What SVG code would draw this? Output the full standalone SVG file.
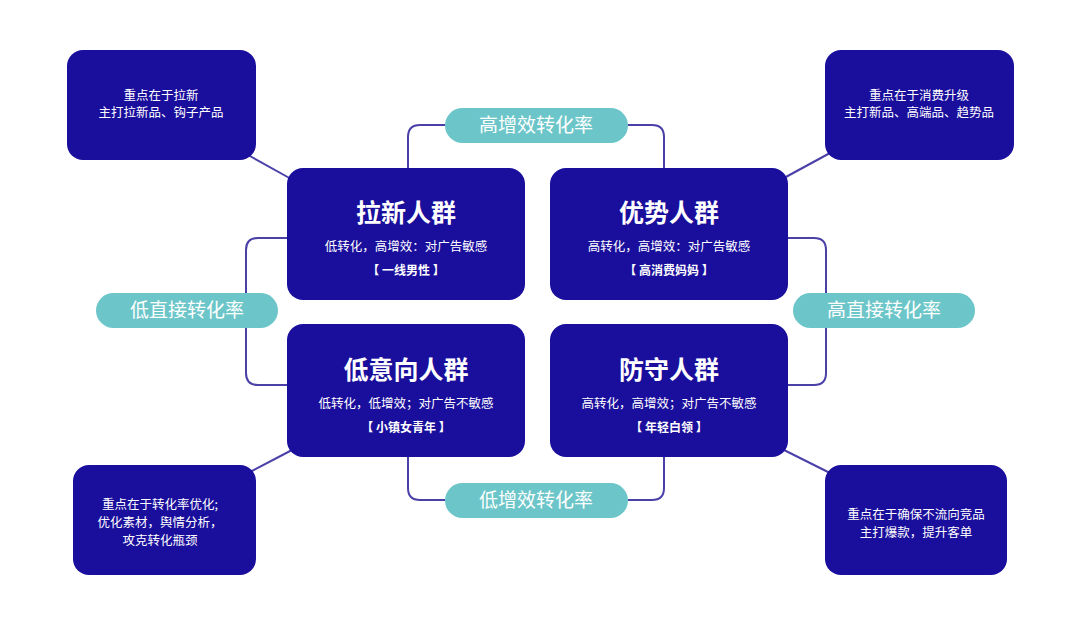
<svg xmlns="http://www.w3.org/2000/svg" width="1080" height="625" viewBox="0 0 1080 625">
<style>
.n{fill:#1a0e9c}
.p{fill:#6cc6c9}
.c path{fill:none;stroke:#4b40a8;stroke-width:2}
text{font-family:"Noto Sans CJK SC","Noto Sans",sans-serif;fill:#fff;text-anchor:middle}
.t{font-size:25px;font-weight:700}
.s{font-size:12.5px}
.b{font-size:12px;font-weight:700}
.pt{font-size:19px}
.ct{font-size:12.5px}
</style>
<rect width="1080" height="625" fill="#fff"/>
<g class="c">
<path d="M445 125 H420 Q408 125 408 137 V168"/>
<path d="M628 125 H652 Q664 125 664 137 V168"/>
<path d="M287 238 H258 Q246 238 246 250 V293"/>
<path d="M246 328 V373 Q246 385 258 385 H287"/>
<path d="M788 238 H814 Q826 238 826 250 V293"/>
<path d="M826 328 V373 Q826 385 814 385 H788"/>
<path d="M408 457 V488 Q408 500 420 500 H445"/>
<path d="M628 500 H652 Q664 500 664 488 V457"/>
<path d="M248 155 L293 180"/>
<path d="M784 178 L830 153"/>
<path d="M250 472 L292 450"/>
<path d="M784 450 L830 473"/>
</g>
<g id="tl"><rect class="n" x="287" y="168" width="238" height="132" rx="16"/><text class="t" x="406" y="222">拉新人群</text><text class="s" x="406" y="251">低转化，高增效：对广告敏感</text><text class="b" x="406" y="275">【 一线男性 】</text></g>
<g id="tr"><rect class="n" x="550" y="168" width="238" height="132" rx="16"/><text class="t" x="669" y="222">优势人群</text><text class="s" x="669" y="251">高转化，高增效：对广告敏感</text><text class="b" x="669" y="275">【 高消费妈妈 】</text></g>
<g id="bl"><rect class="n" x="287" y="324" width="238" height="133" rx="16"/><text class="t" x="406" y="379">低意向人群</text><text class="s" x="406" y="408">低转化，低增效；对广告不敏感</text><text class="b" x="406" y="432">【 小镇女青年 】</text></g>
<g id="br"><rect class="n" x="550" y="324" width="238" height="133" rx="16"/><text class="t" x="669" y="379">防守人群</text><text class="s" x="669" y="408">高转化，高增效；对广告不敏感</text><text class="b" x="669" y="432">【 年轻白领 】</text></g>
<g id="ctl"><rect class="n" x="67" y="50" width="189" height="110" rx="16"/><text class="ct" x="161" y="100">重点在于拉新</text><text class="ct" x="161" y="117">主打拉新品、钩子产品</text></g>
<g id="ctr"><rect class="n" x="825" y="50" width="189" height="110" rx="16"/><text class="ct" x="919" y="100">重点在于消费升级</text><text class="ct" x="919" y="117">主打新品、高端品、趋势品</text></g>
<g id="cbl"><rect class="n" x="73" y="465" width="183" height="110" rx="16"/><text class="ct" x="160" y="509">重点在于转化率优化;</text><text class="ct" x="160" y="527">优化素材，舆情分析，</text><text class="ct" x="160" y="545">攻克转化瓶颈</text></g>
<g id="cbr"><rect class="n" x="825" y="465" width="182" height="110" rx="16"/><text class="ct" x="916" y="519">重点在于确保不流向竞品</text><text class="ct" x="916" y="537">主打爆款，提升客单</text></g>
<g id="pt"><rect class="p" x="445" y="108" width="183" height="35" rx="17.5"/><text class="pt" x="536" y="132">高增效转化率</text></g>
<g id="pl"><rect class="p" x="96" y="293" width="182" height="35" rx="17.5"/><text class="pt" x="187" y="317">低直接转化率</text></g>
<g id="pr"><rect class="p" x="793" y="293" width="182" height="35" rx="17.5"/><text class="pt" x="884" y="317">高直接转化率</text></g>
<g id="pb"><rect class="p" x="445" y="483" width="183" height="35" rx="17.5"/><text class="pt" x="536" y="507">低增效转化率</text></g>
</svg>
